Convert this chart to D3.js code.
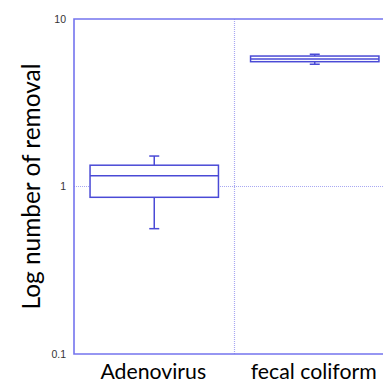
<!DOCTYPE html>
<html><head><meta charset="utf-8">
<script src="https://cdn.jsdelivr.net/npm/d3@7"></script>
<style>html,body{margin:0;padding:0;background:#fff;overflow:hidden}</style>
</head><body>
<svg id="c" width="383" height="383"></svg>
<script>
const categories = ["Adenovirus", "fecal coliform"];
const whiskerLow = [0.56, 5.37];
const q1 = [0.862, 5.56];
const median = [1.16, 5.77];
const q3 = [1.34, 6.01];
const whiskerHigh = [1.52, 6.16];
const yTicks = [0.1, 1, 10];
const yTickLabels = ["0.1", "1", "10"];
const yTitle = "Log number of removal";

(function () {
const svg = d3.select("#c");
const pL = 74, pR = 395, pT = 19, pB = 354;
const x = d3.scaleBand().domain(categories).range([pL, pR]).padding(0);
const y = d3.scaleLog().domain([0.1, 10]).range([pB, pT]);

const axisColor = "#7474ee";
const dotColor = "#a8a8f2";
const boxColor = "#4a4ad6";
const font = "Lato, Open Sans, sans-serif";

svg.append("line").attr("x1", pL).attr("x2", pR).attr("y1", y(1)).attr("y2", y(1))
  .attr("stroke", dotColor).attr("stroke-width", 1).attr("stroke-dasharray", "1,1");
svg.append("line").attr("x1", x(categories[1])).attr("x2", x(categories[1]))
  .attr("y1", pT).attr("y2", pB)
  .attr("stroke", dotColor).attr("stroke-width", 1.2).attr("stroke-dasharray", "1,1");

svg.append("path").attr("d", `M${pR},${pT}H${pL}V${pB}H${pR}`)
  .attr("fill", "none").attr("stroke", axisColor).attr("stroke-width", 1.6);

const yAxis = d3.axisLeft(y).tickValues(yTicks).tickFormat((d, i) => yTickLabels[i]).tickSize(0).tickPadding(8);
const ga = svg.append("g").attr("transform", `translate(${pL},0)`).call(yAxis);
ga.select(".domain").remove();
ga.selectAll("text").attr("font-family", "Liberation Sans Narrow, Arial Narrow, Liberation Sans, sans-serif")
  .attr("font-size", 10.5).attr("fill", "#333");

const bw = x.bandwidth() * 0.8;
const cw = 10;
categories.forEach((c, i) => {
  const cx = x(c) + x.bandwidth() / 2;
  const g = svg.append("g").attr("stroke", boxColor).attr("stroke-width", 1.5).attr("fill", "none");
  g.append("line").attr("x1", cx).attr("x2", cx).attr("y1", y(whiskerHigh[i])).attr("y2", y(q3[i]));
  g.append("line").attr("x1", cx).attr("x2", cx).attr("y1", y(q1[i])).attr("y2", y(whiskerLow[i]));
  g.append("line").attr("x1", cx - cw / 2).attr("x2", cx + cw / 2).attr("y1", y(whiskerHigh[i])).attr("y2", y(whiskerHigh[i]));
  g.append("line").attr("x1", cx - cw / 2).attr("x2", cx + cw / 2).attr("y1", y(whiskerLow[i])).attr("y2", y(whiskerLow[i]));
  g.append("rect").attr("x", cx - bw / 2).attr("width", bw)
    .attr("y", y(q3[i])).attr("height", y(q1[i]) - y(q3[i])).attr("fill", "#fff");
  g.append("line").attr("x1", cx - bw / 2).attr("x2", cx + bw / 2).attr("y1", y(median[i])).attr("y2", y(median[i]));
});

// category labels, sized to match the reference's text width
const xAxis = d3.axisBottom(x).tickSize(0).tickPadding(0);
const gx = svg.append("g").attr("transform", `translate(0,${pB})`).call(xAxis);
gx.select(".domain").remove();
const lbl = gx.selectAll("text").attr("font-family", font).attr("font-size", 16)
  .attr("fill", "#000").attr("dy", null).attr("y", 25);
const w1 = lbl.nodes()[1].getComputedTextLength();
lbl.attr("font-size", 16 * 126 / w1);
gx.selectAll(".tick").attr("transform", (d) => `translate(${x(d) + x.bandwidth() / 2 - 1},0)`);

// y title
const t = svg.append("text").attr("transform", `translate(40,${(pT + pB) / 2}) rotate(-90)`)
  .attr("text-anchor", "middle").attr("font-family", font).attr("font-size", 18)
  .attr("fill", "#000").text(yTitle);
const tw = t.node().getComputedTextLength();
t.attr("font-size", 18 * 246 / tw);
})();
</script>
</body></html>
